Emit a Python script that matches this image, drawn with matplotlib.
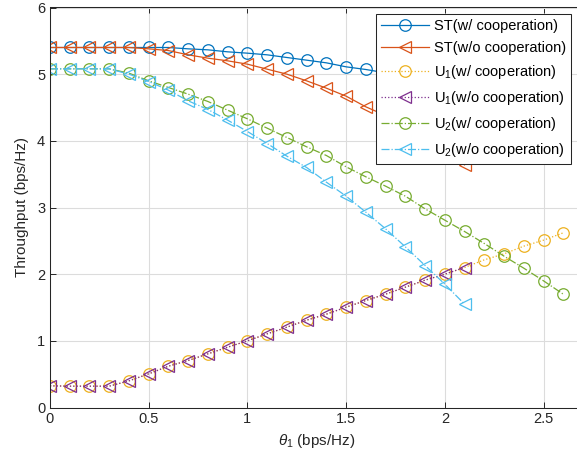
import numpy as np
import matplotlib
matplotlib.use("Agg")
import matplotlib.pyplot as plt

plt.rcParams.update({
    "font.family": "Liberation Sans",
    "font.size": 10,
    "mathtext.fontset": "custom",
    "mathtext.rm": "Liberation Sans",
    "mathtext.it": "Liberation Sans:italic",
})

# theta_1 grid (bps/Hz)
theta_full = np.round(np.arange(0, 2.61, 0.1), 1)   # 0 .. 2.6
theta_short = np.round(np.arange(0, 2.11, 0.1), 1)  # 0 .. 2.1

st_coop = [5.40, 5.40, 5.40, 5.40, 5.40, 5.40, 5.40, 5.38, 5.365, 5.335, 5.315,
           5.29, 5.25, 5.21, 5.17, 5.11, 5.07, 5.02, 4.96, 4.90, 4.83, 4.76,
           4.68, 4.60, 4.51, 4.42, 4.32]
st_nocoop = [5.40, 5.40, 5.40, 5.40, 5.40, 5.38, 5.354, 5.29, 5.24, 5.20, 5.15,
             5.075, 5.00, 4.90, 4.79, 4.67, 4.51, 4.38, 4.23, 4.05, 3.86, 3.64]
u1_coop = [0.325, 0.32, 0.32, 0.32, 0.40, 0.505, 0.62, 0.705, 0.805, 0.905, 1.00,
           1.105, 1.205, 1.31, 1.40, 1.505, 1.605, 1.70, 1.805, 1.91, 2.00, 2.10,
           2.215, 2.305, 2.42, 2.51, 2.62]
u1_nocoop = [0.325, 0.32, 0.32, 0.32, 0.40, 0.505, 0.62, 0.705, 0.805, 0.905, 1.00,
             1.105, 1.205, 1.31, 1.40, 1.505, 1.605, 1.70, 1.805, 1.91, 2.00, 2.10]
u2_coop = [5.08, 5.08, 5.08, 5.08, 5.015, 4.90, 4.80, 4.70, 4.59, 4.46, 4.33,
           4.19, 4.05, 3.91, 3.78, 3.61, 3.46, 3.32, 3.17, 2.98, 2.81, 2.64,
           2.46, 2.27, 2.09, 1.90, 1.70]
u2_nocoop = [5.08, 5.08, 5.08, 5.08, 5.00, 4.89, 4.76, 4.60, 4.47, 4.31, 4.14,
             3.96, 3.77, 3.60, 3.38, 3.17, 2.93, 2.68, 2.41, 2.13, 1.85, 1.55]

series = [
    (theta_full, st_coop, "ST(w/ cooperation)", "#0072BD", "-", "o"),
    (theta_short, st_nocoop, "ST(w/o cooperation)", "#D95319", "-", "<"),
    (theta_full, u1_coop, "U$_1$(w/ cooperation)", "#EDB120", ":", "o"),
    (theta_short, u1_nocoop, "U$_1$(w/o cooperation)", "#7E2F8E", ":", "<"),
    (theta_full, u2_coop, "U$_2$(w/ cooperation)", "#77AC30", "-.", "o"),
    (theta_short, u2_nocoop, "U$_2$(w/o cooperation)", "#4DBEEE", "-.", "<"),
]

fig = plt.figure(figsize=(5.77, 4.66), dpi=100)
ax = fig.add_axes([50 / 577, 1 - 407.5 / 466, 533 / 577, 400 / 466])

for x, y, lab, col, ls, mk in series:
    ax.plot(x, y, ls=ls, marker=mk, color=col, lw=0.9, ms=8.3,
            mfc="none", mec=col, mew=0.9, label=lab)

ax.set_xlim(0, 2.7)
ax.set_ylim(0, 6)
ax.set_xticks([0, 0.5, 1, 1.5, 2, 2.5])
ax.set_xticklabels(["0", "0.5", "1", "1.5", "2", "2.5"])
ax.set_yticks(range(7))
ax.grid(True, color="#dcdcdc", lw=0.8)
ax.set_axisbelow(True)
ax.tick_params(direction="in", length=4, width=0.7, color="#262626",
               labelcolor="#262626", top=True, labelsize=10.5)
for s in ax.spines.values():
    s.set_color("#262626")
    s.set_linewidth(0.75)

ax.set_xlabel(r"$\theta_1$ (bps/Hz)", fontsize=11, color="#262626", labelpad=4)
ax.set_ylabel("Throughput (bps/Hz)", fontsize=11, color="#262626", labelpad=6)

leg = ax.legend(loc="upper right", bbox_to_anchor=(571 / 577, 1 - 14 / 466),
                bbox_transform=fig.transFigure, fontsize=10.5, frameon=True,
                fancybox=False, framealpha=1, edgecolor="#262626",
                handlelength=3.3, handletextpad=0.3, labelspacing=0.55,
                borderpad=0.35, borderaxespad=0)
leg.get_frame().set_linewidth(0.75)

fig.savefig("out.png", dpi=100)
